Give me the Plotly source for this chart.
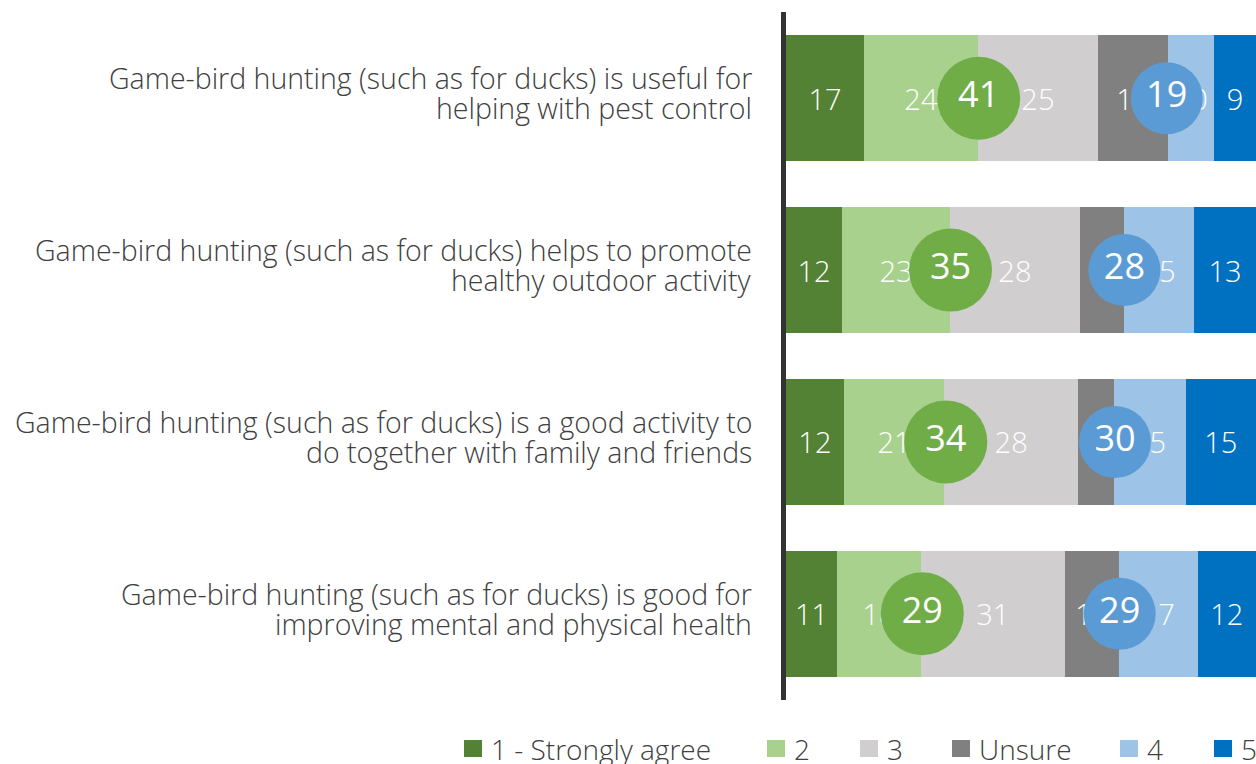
import plotly.graph_objects as go

statements = [
    "Game-bird hunting (such as for ducks) is useful for<br>helping with pest control",
    "Game-bird hunting (such as for ducks) helps to promote<br>healthy outdoor activity",
    "Game-bird hunting (such as for ducks) is a good activity to<br>do together with family and friends",
    "Game-bird hunting (such as for ducks) is good for<br>improving mental and physical health",
]

series_names = ["1 - Strongly agree", "2", "3", "Unsure", "4", "5"]
strongly_agree = [16.6, 11.9, 12.3, 10.9]
agree = [24.3, 23.0, 21.4, 17.8]
neutral = [25.4, 27.6, 28.4, 30.6]
unsure = [15.0, 9.4, 7.6, 11.5]
disagree = [9.8, 14.9, 15.3, 16.8]
strongly_disagree = [8.9, 13.2, 15.0, 12.4]

net_agree = [41, 35, 34, 29]
net_disagree = [19, 28, 30, 29]

colors = ["#548235", "#A9D18E", "#D0CECE", "#808080", "#9DC3E6", "#0070C0"]
FONT = "Open Sans"
TEXT_COLOR = "#404040"

W, H = 1256, 764
L, R, T, B = 786, 0, 12, 64
PW, PH = W - L - R, H - T - B


def px_x(p):
    return (p - L) / PW


def px_y(q):
    return (H - B - q) / PH


fig = go.Figure()
for name, vals, col in zip(series_names,
                           [strongly_agree, agree, neutral, unsure, disagree, strongly_disagree],
                           colors):
    fig.add_trace(go.Bar(
        y=statements, x=vals, orientation="h", name=name, showlegend=False,
        marker=dict(color=col, line=dict(width=0)),
        texttemplate="%{x:.0f}", textposition="inside", insidetextanchor="middle",
        textfont=dict(family=FONT, size=29, color="white", weight=300),
        constraintext="none", cliponaxis=False, hoverinfo="skip",
    ))

fig.add_trace(go.Scatter(
    y=statements, x=net_agree, mode="markers+text", showlegend=False,
    marker=dict(size=83, color="#70AD47", line=dict(width=0)),
    text=[str(v) for v in net_agree], textposition="middle center",
    textfont=dict(family=FONT, size=36, color="white", weight=400),
    cliponaxis=False, hoverinfo="skip",
))
fig.add_trace(go.Scatter(
    y=statements, x=[100 - v for v in net_disagree], mode="markers+text", showlegend=False,
    marker=dict(size=72, color="#5B9BD5", line=dict(width=0)),
    text=[str(v) for v in net_disagree], textposition="middle center",
    textfont=dict(family=FONT, size=36, color="white", weight=400),
    cliponaxis=False, hoverinfo="skip",
))

annotations = []
for s in statements:
    line1, line2 = s.split("<br>")
    for txt, shift in ((line1, 20), (line2, -10)):
        annotations.append(dict(
            text=txt, x=0, xref="paper", y=s, yref="y", xanchor="right", yanchor="middle",
            xshift=-32, yshift=shift, showarrow=False,
            font=dict(family=FONT, size=28.5, color=TEXT_COLOR, weight=300),
        ))

# legend drawn as squares + text
legend_square_px = [464, 767, 860, 952, 1120, 1214]
shapes = []
for name, col, sx in zip(series_names, colors, legend_square_px):
    shapes.append(dict(type="rect", xref="paper", yref="paper",
                       x0=px_x(sx), x1=px_x(sx + 18), y0=px_y(757), y1=px_y(740),
                       fillcolor=col, line=dict(width=0), layer="above"))
    annotations.append(dict(
        text=name, x=px_x(sx + 25), xref="paper", y=px_y(748.5), yref="paper",
        xanchor="left", yanchor="middle", showarrow=False,
        font=dict(family=FONT, size=28, color=TEXT_COLOR, weight=300),
    ))

fig.update_layout(
    width=W, height=H,
    barmode="stack", bargap=0.269,
    plot_bgcolor="white", paper_bgcolor="white",
    margin=dict(l=L, r=R, t=T, b=B, autoexpand=False),
    uniformtext=dict(minsize=29, mode="show"),
    xaxis=dict(range=[0, 100.001], visible=False, fixedrange=True),
    yaxis=dict(autorange="reversed", showline=True, linecolor="#333333", linewidth=5,
               ticks="", showgrid=False, showticklabels=False, zeroline=False),
    showlegend=False,
    annotations=annotations,
    shapes=shapes,
)

fig.write_html(
    "out.html",
    config={"displayModeBar": False},
    post_script="document.body.style.margin='0';document.body.style.overflow='hidden';",
)
